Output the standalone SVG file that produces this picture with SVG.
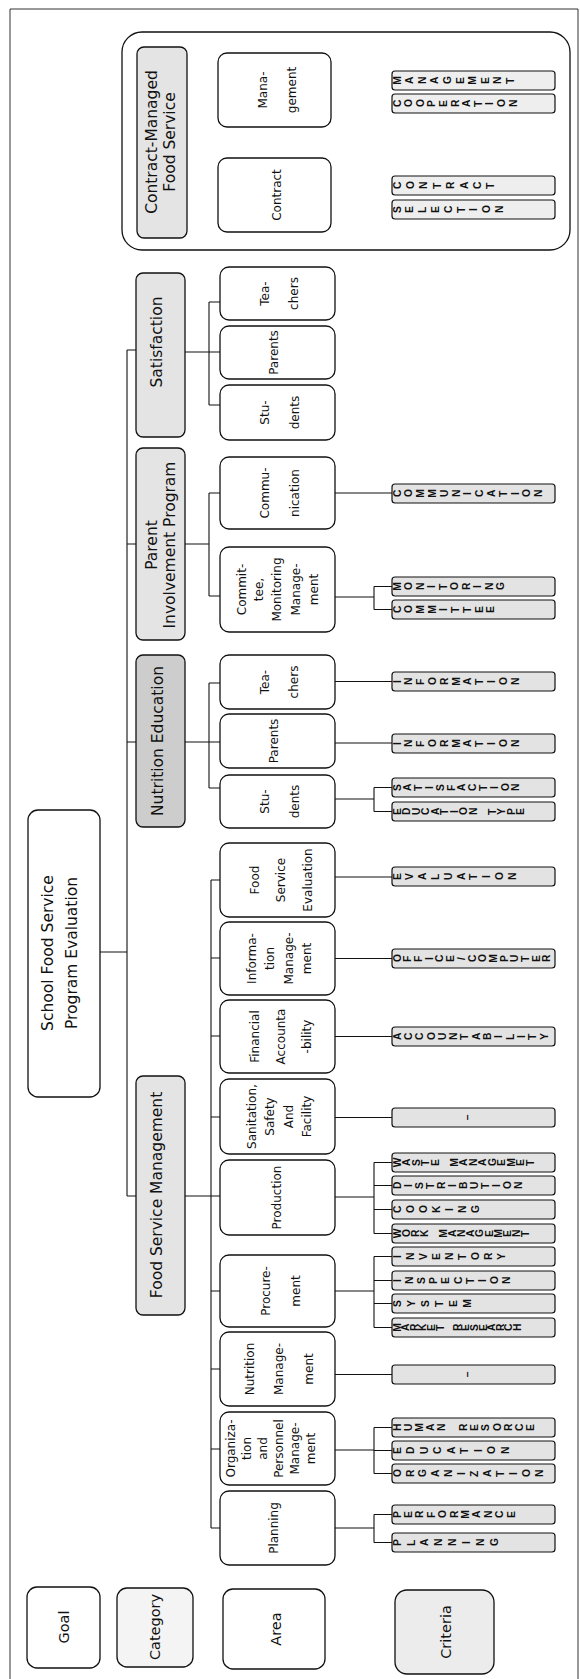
<svg xmlns="http://www.w3.org/2000/svg" width="580" height="1679" viewBox="0 0 580 1679">
<style>
.box{fill:#fff;stroke:#111;stroke-width:1.3}
.cat{fill:#e4e4e4;stroke:#111;stroke-width:1.3}
.catd{fill:#cdcdcd;stroke:#111;stroke-width:1.3}
.crit{fill:#e3e3e3;stroke:#111;stroke-width:1.2}
.critl{fill:#eeeeee;stroke:#111;stroke-width:1.2}
.t{font-family:'DejaVu Sans',sans-serif;font-size:12px;fill:#111;text-anchor:middle;dominant-baseline:central}
.tc{font-size:15.5px}
.tl{font-size:14.5px}
.cr{font-family:'Liberation Sans',Arial,sans-serif;font-weight:bold;font-size:10.3px;fill:#111}
.ln{stroke:#111;stroke-width:1.1;fill:none}
.frame{stroke:#333;stroke-width:1;fill:none}
</style>
<path class="frame" d="M10,1679 V9 H578 V1679"/>

<g id="connectors">
<path class="ln" d="M100,952 H127 M127,350 V1196 M127,350 H137 M127,544 H136 M127,742 H136 M127,1196 H136"/>
<path class="ln" d="M187,143 H209 M209,92 V193 M209,92 H218 M209,193 H218"/>
<path class="ln" d="M185,352 H220 M209,302 V405 M209,302 H220 M209,405 H220"/>
<path class="ln" d="M185,544 H209 M209,493 V596 M209,493 H220 M209,596 H220"/>
<path class="ln" d="M185,742 H220 M209,683 V788 M209,683 H220 M209,788 H220"/>
<path class="ln" d="M185,1196 H220 M211,880 V1528 M211,880 H220 M211,958 H220 M211,1036 H220 M211,1117 H220 M211,1291 H220 M211,1369 H220 M211,1449 H220 M211,1528 H220"/>
<path class="ln" d="M331,90 H374 M374,80.5 V103.5 M374,80.5 H392 M374,103.5 H392"/>
<path class="ln" d="M331,197 H374 M374,185.5 V209.5 M374,185.5 H392 M374,209.5 H392"/>
<path class="ln" d="M335,493 H392"/>
<path class="ln" d="M335,597 H374 M374,586.5 V609.5 M374,586.5 H392 M374,609.5 H392"/>
<path class="ln" d="M335,681.5 H392 M335,743 H392"/>
<path class="ln" d="M335,799 H374 M374,787.5 V811.5 M374,787.5 H392 M374,811.5 H392"/>
<path class="ln" d="M335,877 H392 M335,958.5 H392 M335,1036.5 H392 M335,1117.5 H392"/>
<path class="ln" d="M335,1197 H374 M374,1162.5 V1233.5 M374,1162.5 H392 M374,1185.5 H392 M374,1209.5 H392 M374,1233.5 H392"/>
<path class="ln" d="M335,1291 H374 M374,1256.5 V1327.5 M374,1256.5 H392 M374,1280.5 H392 M374,1303.5 H392 M374,1327.5 H392"/>
<path class="ln" d="M335,1374.5 H392"/>
<path class="ln" d="M335,1450 H374 M374,1427.5 V1473.5 M374,1427.5 H392 M374,1450.5 H392 M374,1473.5 H392"/>
<path class="ln" d="M335,1528 H374 M374,1514.5 V1542.5 M374,1514.5 H392 M374,1542.5 H392"/>
</g>

<g id="contract-group"><rect class="box" x="122" y="32" width="448" height="218" rx="20" fill="none"/></g>

<g id="goal"><rect class="box" x="28" y="810" width="72" height="287" rx="10"/>
<text class="t tc" transform="translate(60,953) rotate(-90)"><tspan x="0" y="-12">School Food Service</tspan><tspan x="0" y="12">Program Evaluation</tspan></text></g>

<g id="cat-contract"><rect class="cat" x="137" y="47" width="50" height="191" rx="7"/>
<text class="t tc" transform="translate(161,142) rotate(-90)"><tspan x="0" y="-9">Contract-Managed</tspan><tspan x="0" y="9">Food Service</tspan></text></g>
<g id="cat-satisfaction"><rect class="cat" x="136" y="273" width="49" height="164" rx="7"/>
<text class="t tc" transform="translate(157,342) rotate(-90)">Satisfaction</text></g>
<g id="cat-parent"><rect class="cat" x="136" y="448" width="49" height="192" rx="7"/>
<text class="t tc" transform="translate(161,545) rotate(-90)"><tspan x="0" y="-9">Parent</tspan><tspan x="0" y="9">Involvement Program</tspan></text></g>
<g id="cat-nutrition"><rect class="catd" x="136" y="655" width="49" height="172" rx="7"/>
<text class="t tc" transform="translate(158,741) rotate(-90)">Nutrition Education</text></g>
<g id="cat-fsm"><rect class="cat" x="136" y="1076" width="49" height="239" rx="7"/>
<text class="t tc" transform="translate(157,1195) rotate(-90)">Food Service Management</text></g>

<g id="a-cm-management"><rect class="box" x="218" y="53" width="113" height="74" rx="9"/>
<text class="t" transform="translate(277,90) rotate(-90)"><tspan x="0" y="-14">Mana-</tspan><tspan x="0" y="15">gement</tspan></text></g>
<g id="a-cm-contract"><rect class="box" x="218" y="158" width="113" height="74" rx="9"/>
<text class="t" transform="translate(277,195) rotate(-90)">Contract</text></g>

<g id="a-s-teachers"><rect class="box" x="220" y="267" width="115" height="53" rx="9"/>
<text class="t" transform="translate(277,293.5) rotate(-90)"><tspan x="0" y="-12">Tea-</tspan><tspan x="0" y="17">chers</tspan></text></g>
<g id="a-s-parents"><rect class="box" x="220" y="326" width="115" height="53" rx="9"/>
<text class="t" transform="translate(277,352.5) rotate(-90)"><tspan x="0" y="-3">Parents</tspan></text></g>
<g id="a-s-students"><rect class="box" x="220" y="385" width="115" height="55" rx="9"/>
<text class="t" transform="translate(277,412.5) rotate(-90)"><tspan x="0" y="-12">Stu-</tspan><tspan x="0" y="18">dents</tspan></text></g>

<g id="a-p-communication"><rect class="box" x="220" y="457" width="115" height="72" rx="9"/>
<text class="t" transform="translate(277,493) rotate(-90)"><tspan x="0" y="-12">Commu-</tspan><tspan x="0" y="18">nication</tspan></text></g>
<g id="a-p-committee"><rect class="box" x="220" y="547" width="115" height="85" rx="9"/>
<text class="t" transform="translate(277,589.5) rotate(-90)"><tspan x="0" y="-35">Commit-</tspan><tspan x="0" y="-18">tee,</tspan><tspan x="0" y="0">Monitoring</tspan><tspan x="0" y="19">Manage-</tspan><tspan x="0" y="37">ment</tspan></text></g>

<g id="a-n-teachers"><rect class="box" x="220" y="655" width="115" height="54" rx="9"/>
<text class="t" transform="translate(277,682) rotate(-90)"><tspan x="0" y="-12">Tea-</tspan><tspan x="0" y="17">chers</tspan></text></g>
<g id="a-n-parents"><rect class="box" x="220" y="714" width="115" height="54" rx="9"/>
<text class="t" transform="translate(277,741) rotate(-90)"><tspan x="0" y="-3">Parents</tspan></text></g>
<g id="a-n-students"><rect class="box" x="220" y="775" width="115" height="53" rx="9"/>
<text class="t" transform="translate(277,801.5) rotate(-90)"><tspan x="0" y="-12">Stu-</tspan><tspan x="0" y="18">dents</tspan></text></g>

<g id="a-f-evaluation"><rect class="box" x="220" y="843" width="115" height="74" rx="9"/>
<text class="t" transform="translate(277,880) rotate(-90)"><tspan x="0" y="-22">Food</tspan><tspan x="0" y="4">Service</tspan><tspan x="0" y="31">Evaluation</tspan></text></g>
<g id="a-f-information"><rect class="box" x="220" y="922" width="115" height="73" rx="9"/>
<text class="t" transform="translate(277,958.5) rotate(-90)"><tspan x="0" y="-25">Informa-</tspan><tspan x="0" y="-7">tion</tspan><tspan x="0" y="12">Manage-</tspan><tspan x="0" y="30">ment</tspan></text></g>
<g id="a-f-financial"><rect class="box" x="220" y="1000" width="115" height="73" rx="9"/>
<text class="t" transform="translate(277,1036.5) rotate(-90)"><tspan x="0" y="-22">Financial</tspan><tspan x="0" y="4">Accounta</tspan><tspan x="0" y="30">-bility</tspan></text></g>
<g id="a-f-sanitation"><rect class="box" x="220" y="1079" width="115" height="75" rx="9"/>
<text class="t" transform="translate(277,1116.5) rotate(-90)"><tspan x="0" y="-25">Sanitation,</tspan><tspan x="0" y="-7">Safety</tspan><tspan x="0" y="12">And</tspan><tspan x="0" y="30">Facility</tspan></text></g>
<g id="a-f-production"><rect class="box" x="220" y="1160" width="115" height="75" rx="9"/>
<text class="t" transform="translate(277,1197.5) rotate(-90)">Production</text></g>
<g id="a-f-procurement"><rect class="box" x="220" y="1255" width="115" height="72" rx="9"/>
<text class="t" transform="translate(277,1291) rotate(-90)"><tspan x="0" y="-11">Procure-</tspan><tspan x="0" y="19">ment</tspan></text></g>
<g id="a-f-nutrition"><rect class="box" x="220" y="1332" width="115" height="74" rx="9"/>
<text class="t" transform="translate(277,1369) rotate(-90)"><tspan x="0" y="-27">Nutrition</tspan><tspan x="0" y="2">Manage-</tspan><tspan x="0" y="32">ment</tspan></text></g>
<g id="a-f-organization"><rect class="box" x="220" y="1412" width="115" height="73" rx="9"/>
<text class="t" transform="translate(277,1448.5) rotate(-90)"><tspan x="0" y="-46">Organiza-</tspan><tspan x="0" y="-30">tion</tspan><tspan x="0" y="-14">and</tspan><tspan x="0" y="2">Personnel</tspan><tspan x="0" y="18">Manage-</tspan><tspan x="0" y="34">ment</tspan></text></g>
<g id="a-f-planning"><rect class="box" x="220" y="1491" width="115" height="74" rx="9"/>
<text class="t" transform="translate(277,1528) rotate(-90)"><tspan x="0" y="-3">Planning</tspan></text></g>

<g id="cr-management"><rect class="critl" x="392" y="71" width="163" height="19" rx="3"/>
<text class="cr" rotate="-90" x="400.6 413.2 425.8 438.4 451 463.6 476.2 488.8 501.4 514" y="84.7 84 84 84 84 84 84.7 84 84 84">MANAGEMENT</text></g>
<g id="cr-cooperation"><rect class="critl" x="392" y="94" width="163" height="19" rx="3"/>
<text class="cr" rotate="-90" x="400.6 412.2 423.8 435.4 447 458.6 470.2 481.8 493.4 505 516.6" y="107 107 107 107 107 107 107 107 104.9 107 107">COOPERATION</text></g>
<g id="cr-contract"><rect class="critl" x="392" y="176" width="163" height="19" rx="3"/>
<text class="cr" rotate="-90" x="400.6 414 427.4 440.8 454.2 467.6 481 494.4" y="189">CONTRACT</text></g>
<g id="cr-selection"><rect class="critl" x="392" y="200" width="163" height="19" rx="3"/>
<text class="cr" rotate="-90" x="400.6 413.4 426.2 439 451.8 464.6 477.4 490.2 503" y="213 213 213 213 213 213 210.9 213 213">SELECTION</text></g>
<g id="cr-communication"><rect class="crit" x="392" y="484" width="163" height="19" rx="3"/>
<text class="cr" rotate="-90" x="400.6 412.4 424.2 436 447.8 459.6 471.4 483.2 495 506.8 518.6 530.4 542.2" y="497 497 497.7 497.7 497 497 494.9 497 497 497 494.9 497 497">COMMUNICATION</text></g>
<g id="cr-monitoring"><rect class="crit" x="392" y="577" width="163" height="19" rx="3"/>
<text class="cr" rotate="-90" x="400.6 412.1 423.6 435.1 446.6 458.1 469.6 481.1 492.6 504.1" y="590.7 590 590 587.9 590 590 590 587.9 590 590">MONITORING</text></g>
<g id="cr-committee"><rect class="crit" x="392" y="600" width="163" height="19" rx="3"/>
<text class="cr" rotate="-90" x="400.6 412.3 424 435.7 447.4 459.1 470.8 482.5 494.2" y="613 613 613.7 613.7 610.9 613 613 613 613">COMMITTEE</text></g>
<g id="cr-information-t"><rect class="crit" x="392" y="672" width="163" height="19" rx="3"/>
<text class="cr" rotate="-90" x="400.6 412.4 424.2 436 447.8 459.6 471.4 483.2 495 506.8 518.6" y="682.9 685 685 685 685 685.7 685 685 682.9 685 685">INFORMATION</text></g>
<g id="cr-information-p"><rect class="crit" x="392" y="734" width="163" height="19" rx="3"/>
<text class="cr" rotate="-90" x="400.6 412.4 424.2 436 447.8 459.6 471.4 483.2 495 506.8 518.6" y="744.9 747 747 747 747 747.7 747 747 744.9 747 747">INFORMATION</text></g>
<g id="cr-satisfaction"><rect class="crit" x="392" y="778" width="163" height="19" rx="3"/>
<text class="cr" rotate="-90" x="400.6 411.4 422.2 433 443.8 454.6 465.4 476.2 487 497.8 508.6 519.4" y="791 791 791 788.9 791 791 791 791 791 788.9 791 791">SATISFACTION</text></g>
<g id="cr-education-type"><rect class="crit" x="392" y="802" width="163" height="19" rx="3"/>
<text class="cr" rotate="-90" x="400.6 410.1 419.6 429.1 438.6 448.1 457.6 467.1 476.6 486.1 495.6 505.1 514.6 524.1" y="815 815 815 815 815 815 812.9 815 815 815 815 815 815 815">EDUCATION TYPE</text></g>
<g id="cr-evaluation"><rect class="crit" x="392" y="867" width="163" height="19" rx="3"/>
<text class="cr" rotate="-90" x="400.6 413.4 426.2 439 451.8 464.6 477.4 490.2 503 515.8" y="880 880 880 880 880 880 880 877.9 880 880">EVALUATION</text></g>
<g id="cr-office"><rect class="crit" x="392" y="949" width="163" height="19" rx="3"/>
<text class="cr" rotate="-90" x="400.6 411.3 422 432.7 443.4 454.1 464.8 475.5 486.2 496.9 507.6 518.3 529 539.7 550.4" y="962 962 962 959.9 962 962 959.9 962 962 962.7 962 962 962 962 962">OFFICE/COMPUTER</text></g>
<g id="cr-accountability"><rect class="crit" x="392" y="1027" width="163" height="19" rx="3"/>
<text class="cr" rotate="-90" x="400.6 411.9 423.2 434.5 445.8 457.1 468.4 479.7 491 502.3 513.6 524.9 536.2 547.5" y="1040 1040 1040 1040 1040 1040 1040 1040 1040 1037.9 1040 1037.9 1040 1040">ACCOUNTABILITY</text></g>
<g id="cr-sanitation"><rect class="crit" x="392" y="1108" width="163" height="19" rx="3"/>
<text class="cr" rotate="-90" x="471.3" y="1120.3">–</text></g>
<g id="cr-waste"><rect class="crit" x="392" y="1153" width="163" height="19" rx="3"/>
<text class="cr" rotate="-90" x="400.6 410.1 419.6 429.1 438.6 448.1 457.6 467.1 476.6 486.1 495.6 505.1 514.6 524.1 533.6" y="1167.2 1166 1166 1166 1166 1166 1166.7 1166 1166 1166 1166 1166 1166.7 1166 1166">WASTE MANAGEMET</text></g>
<g id="cr-distribution"><rect class="crit" x="392" y="1176" width="163" height="19" rx="3"/>
<text class="cr" rotate="-90" x="400.6 411.6 422.6 433.6 444.6 455.6 466.6 477.6 488.6 499.6 510.6 521.6" y="1189 1186.9 1189 1189 1189 1186.9 1189 1189 1189 1186.9 1189 1189">DISTRIBUTION</text></g>
<g id="cr-cooking"><rect class="crit" x="392" y="1200" width="163" height="19" rx="3"/>
<text class="cr" rotate="-90" x="400.6 413.6 426.6 439.6 452.6 465.6 478.6" y="1213 1213 1213 1213 1210.9 1213 1213">COOKING</text></g>
<g id="cr-work"><rect class="crit" x="392" y="1224" width="163" height="19" rx="3"/>
<text class="cr" rotate="-90" x="400.6 409.8 419 428.2 437.4 446.6 455.8 465 474.2 483.4 492.6 501.8 511 520.2 529.4" y="1238.2 1237 1237 1237 1237 1237.7 1237 1237 1237 1237 1237 1237.7 1237 1237 1237">WORK MANAGEMENT</text></g>
<g id="cr-inventory"><rect class="crit" x="392" y="1247" width="163" height="19" rx="3"/>
<text class="cr" rotate="-90" x="400.6 413.6 426.6 439.6 452.6 465.6 478.6 491.6 504.6" y="1257.9 1260 1260 1260 1260 1260 1260 1260 1260">INVENTORY</text></g>
<g id="cr-inspection"><rect class="crit" x="392" y="1271" width="163" height="19" rx="3"/>
<text class="cr" rotate="-90" x="400.6 412.8 425 437.2 449.4 461.6 473.8 486 498.2 510.4" y="1281.9 1284 1284 1284 1284 1284 1284 1281.9 1284 1284">INSPECTION</text></g>
<g id="cr-system"><rect class="crit" x="392" y="1294" width="163" height="19" rx="3"/>
<text class="cr" rotate="-90" x="400.6 414.6 428.6 442.6 456.6 470.6" y="1307 1307 1307 1307 1307 1307.7">SYSTEM</text></g>
<g id="cr-market"><rect class="crit" x="392" y="1318" width="163" height="19" rx="3"/>
<text class="cr" rotate="-90" x="400.6 409.2 417.8 426.4 435 443.6 452.2 460.8 469.4 478 486.6 495.2 503.8 512.4 521" y="1331.7 1331 1331 1331 1331 1331 1331 1331 1331 1331 1331 1331 1331 1331 1331">MARKET RESEARCH</text></g>
<g id="cr-nutrition"><rect class="crit" x="392" y="1365" width="163" height="19" rx="3"/>
<text class="cr" rotate="-90" x="471.3" y="1377.3">–</text></g>
<g id="cr-human"><rect class="crit" x="392" y="1418" width="163" height="19" rx="3"/>
<text class="cr" rotate="-90" x="400.6 411.7 422.8 433.9 445 456.1 467.2 478.3 489.4 500.5 511.6 522.7 533.8" y="1431 1431 1431.7 1431 1431 1431 1431 1431 1431 1431 1431 1431 1431">HUMAN RESORCE</text></g>
<g id="cr-education"><rect class="crit" x="392" y="1441" width="163" height="19" rx="3"/>
<text class="cr" rotate="-90" x="400.6 414.1 427.6 441.1 454.6 468.1 481.6 495.1 508.6" y="1454 1454 1454 1454 1454 1454 1451.9 1454 1454">EDUCATION</text></g>
<g id="cr-organization"><rect class="crit" x="392" y="1464" width="163" height="19" rx="3"/>
<text class="cr" rotate="-90" x="400.6 413.5 426.4 439.3 452.2 465.1 478 490.9 503.8 516.7 529.6 542.5" y="1477 1477 1477 1477 1477 1474.9 1477 1477 1477 1474.9 1477 1477">ORGANIZATION</text></g>
<g id="cr-performance"><rect class="crit" x="392" y="1505" width="163" height="19" rx="3"/>
<text class="cr" rotate="-90" x="400.6 412 423.4 434.8 446.2 457.6 469 480.4 491.8 503.2 514.6" y="1518 1518 1518 1518 1518 1518 1518.7 1518 1518 1518 1518">PERFORMANCE</text></g>
<g id="cr-planning"><rect class="crit" x="392" y="1533" width="163" height="19" rx="3"/>
<text class="cr" rotate="-90" x="400.6 414.5 428.4 442.3 456.2 470.1 484 497.9" y="1546 1546 1546 1546 1546 1543.9 1546 1546">PLANNING</text></g>

<g id="legend-goal"><rect class="box" x="27" y="1587" width="73" height="81" rx="10"/>
<text class="t tl" transform="translate(64,1627) rotate(-90)">Goal</text></g>
<g id="legend-category"><rect class="box" x="117" y="1588" width="76" height="79" rx="10" style="fill:#f4f4f4"/>
<text class="t tl" transform="translate(155,1627) rotate(-90)">Category</text></g>
<g id="legend-area"><rect class="box" x="223" y="1589" width="102" height="80" rx="10"/>
<text class="t tl" transform="translate(276,1629) rotate(-90)">Area</text></g>
<g id="legend-criteria"><rect class="box" x="395" y="1590" width="99" height="84" rx="12" style="fill:#ececec"/>
<text class="t tl" transform="translate(446,1632) rotate(-90)">Criteria</text></g>
</svg>
